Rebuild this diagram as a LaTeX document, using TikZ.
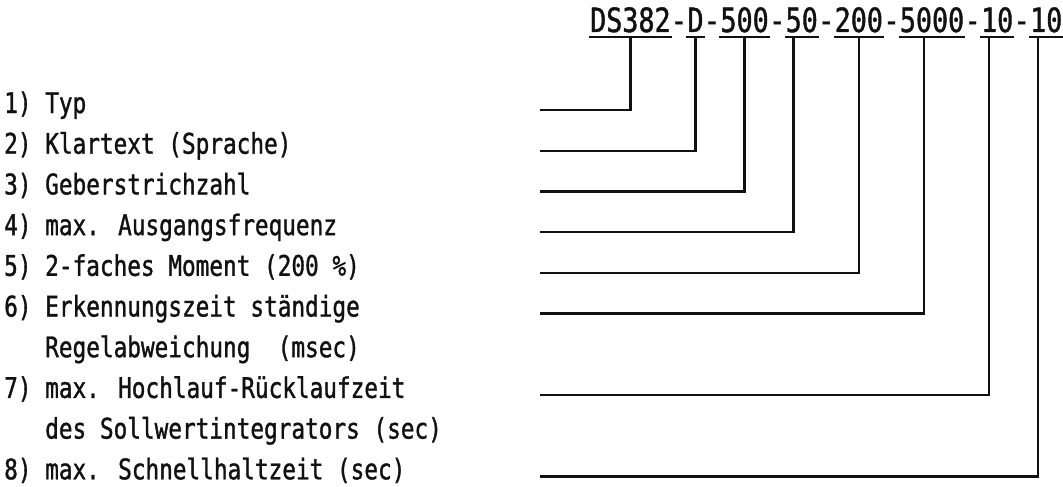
\documentclass[tikz,border=0pt]{standalone}
\usepackage{fontspec}
\usetikzlibrary{positioning}
\newfontfamily\codefont[FakeStretch=0.8,FakeBold=1.2]{DejaVu Sans Mono}
\newcommand{\Pitch}{16.1}   % one character of the type code
\newcommand{\Row}{40.7}     % line pitch of the legend
\newcommand{\Rail}{541}     % where every leader starts
\newcommand{\Lift}{3pt}     % leader sits a little above the baseline
\newcommand{\Rule}{2.4pt}
\definecolor{ink}{HTML}{111111}

\begin{document}
\begin{tikzpicture}[x=1pt,y=-1pt, line join=miter, line cap=rect,
  seg/.style={inner xsep=0pt, inner ysep=5pt, text depth=0pt, text=ink,
    font=\codefont\fontsize{33.4}{36}\selectfont},
  item/.style={inner sep=0pt, anchor=base west, text=ink,
    font=\codefont\fontsize{28.4}{40.7}\selectfont},
  lead/.style={ink, line width=\Rule}]

  \useasboundingbox (0,0) rectangle (1063,487);

  % ---- the type code, one node per field -------------------------------
  \node[seg, anchor=base west] (typ) at (590,32) {DS382};
  \node[seg, base right=0pt of typ]    (h1)     {-};
  \node[seg, base right=0pt of h1]     (lang)   {D};
  \node[seg, base right=0pt of lang]   (h2)     {-};
  \node[seg, base right=0pt of h2]     (lines)  {500};
  \node[seg, base right=0pt of lines]  (h3)     {-};
  \node[seg, base right=0pt of h3]     (freq)   {50};
  \node[seg, base right=0pt of freq]   (h4)     {-};
  \node[seg, base right=0pt of h4]     (torq)   {200};
  \node[seg, base right=0pt of torq]   (h5)     {-};
  \node[seg, base right=0pt of h5]     (detect) {5000};
  \node[seg, base right=0pt of detect] (h6)     {-};
  \node[seg, base right=0pt of h6]     (ramp)   {10};
  \node[seg, base right=0pt of ramp]   (h7)     {-};
  \node[seg, base right=0pt of h7]     (stop)   {10};

  \foreach \s in {typ,lang,lines,freq,torq,detect,ramp,stop}
    \draw[ink,line width=1.8pt] (\s.south west) -- (\s.south east);

  % taps: even fields are tapped on the left one of the middle pair
  \coordinate (t1) at (typ.south);
  \coordinate (t2) at (lang.south);
  \coordinate (t3) at (lines.south);
  \coordinate (t4) at ([xshift=-\Pitch/2]freq.south);
  \coordinate (t5) at (torq.south);
  \coordinate (t6) at ([xshift=-\Pitch/2]detect.south);
  \coordinate (t7) at ([xshift=-\Pitch/2]ramp.south);
  \coordinate (t8) at ([xshift=-\Pitch/2]stop.south);

  % ---- legend --------------------------------------------------------------
  \foreach \t [count=\k from 0] in {
      1) Typ,
      2) Klartext (Sprache),
      3) Geberstrichzahl,
      4) max. Ausgangsfrequenz,
      5) 2-faches Moment (200 \%),
      6) Erkennungszeit ständige,
      {\hphantom{6) }Regelabweichung\ \ (msec)},
      7) max. Hochlauf-Rücklaufzeit,
      {\hphantom{7) }des Sollwertintegrators (sec)},
      8) max. Schnellhaltzeit (sec)}
    \node[item] (r\k) at (4,{113+\k*\Row}) {\t};

  % ---- leaders -------------------------------------------------------------
  \coordinate (rail) at (\Rail,0);
  \foreach \k/\t in {0/1,1/2,2/3,3/4,4/5,5/6,7/7,9/8}
    \draw[lead] ([yshift=\Lift]rail |- r\k.base) -| (t\t);

\end{tikzpicture}
\end{document}
